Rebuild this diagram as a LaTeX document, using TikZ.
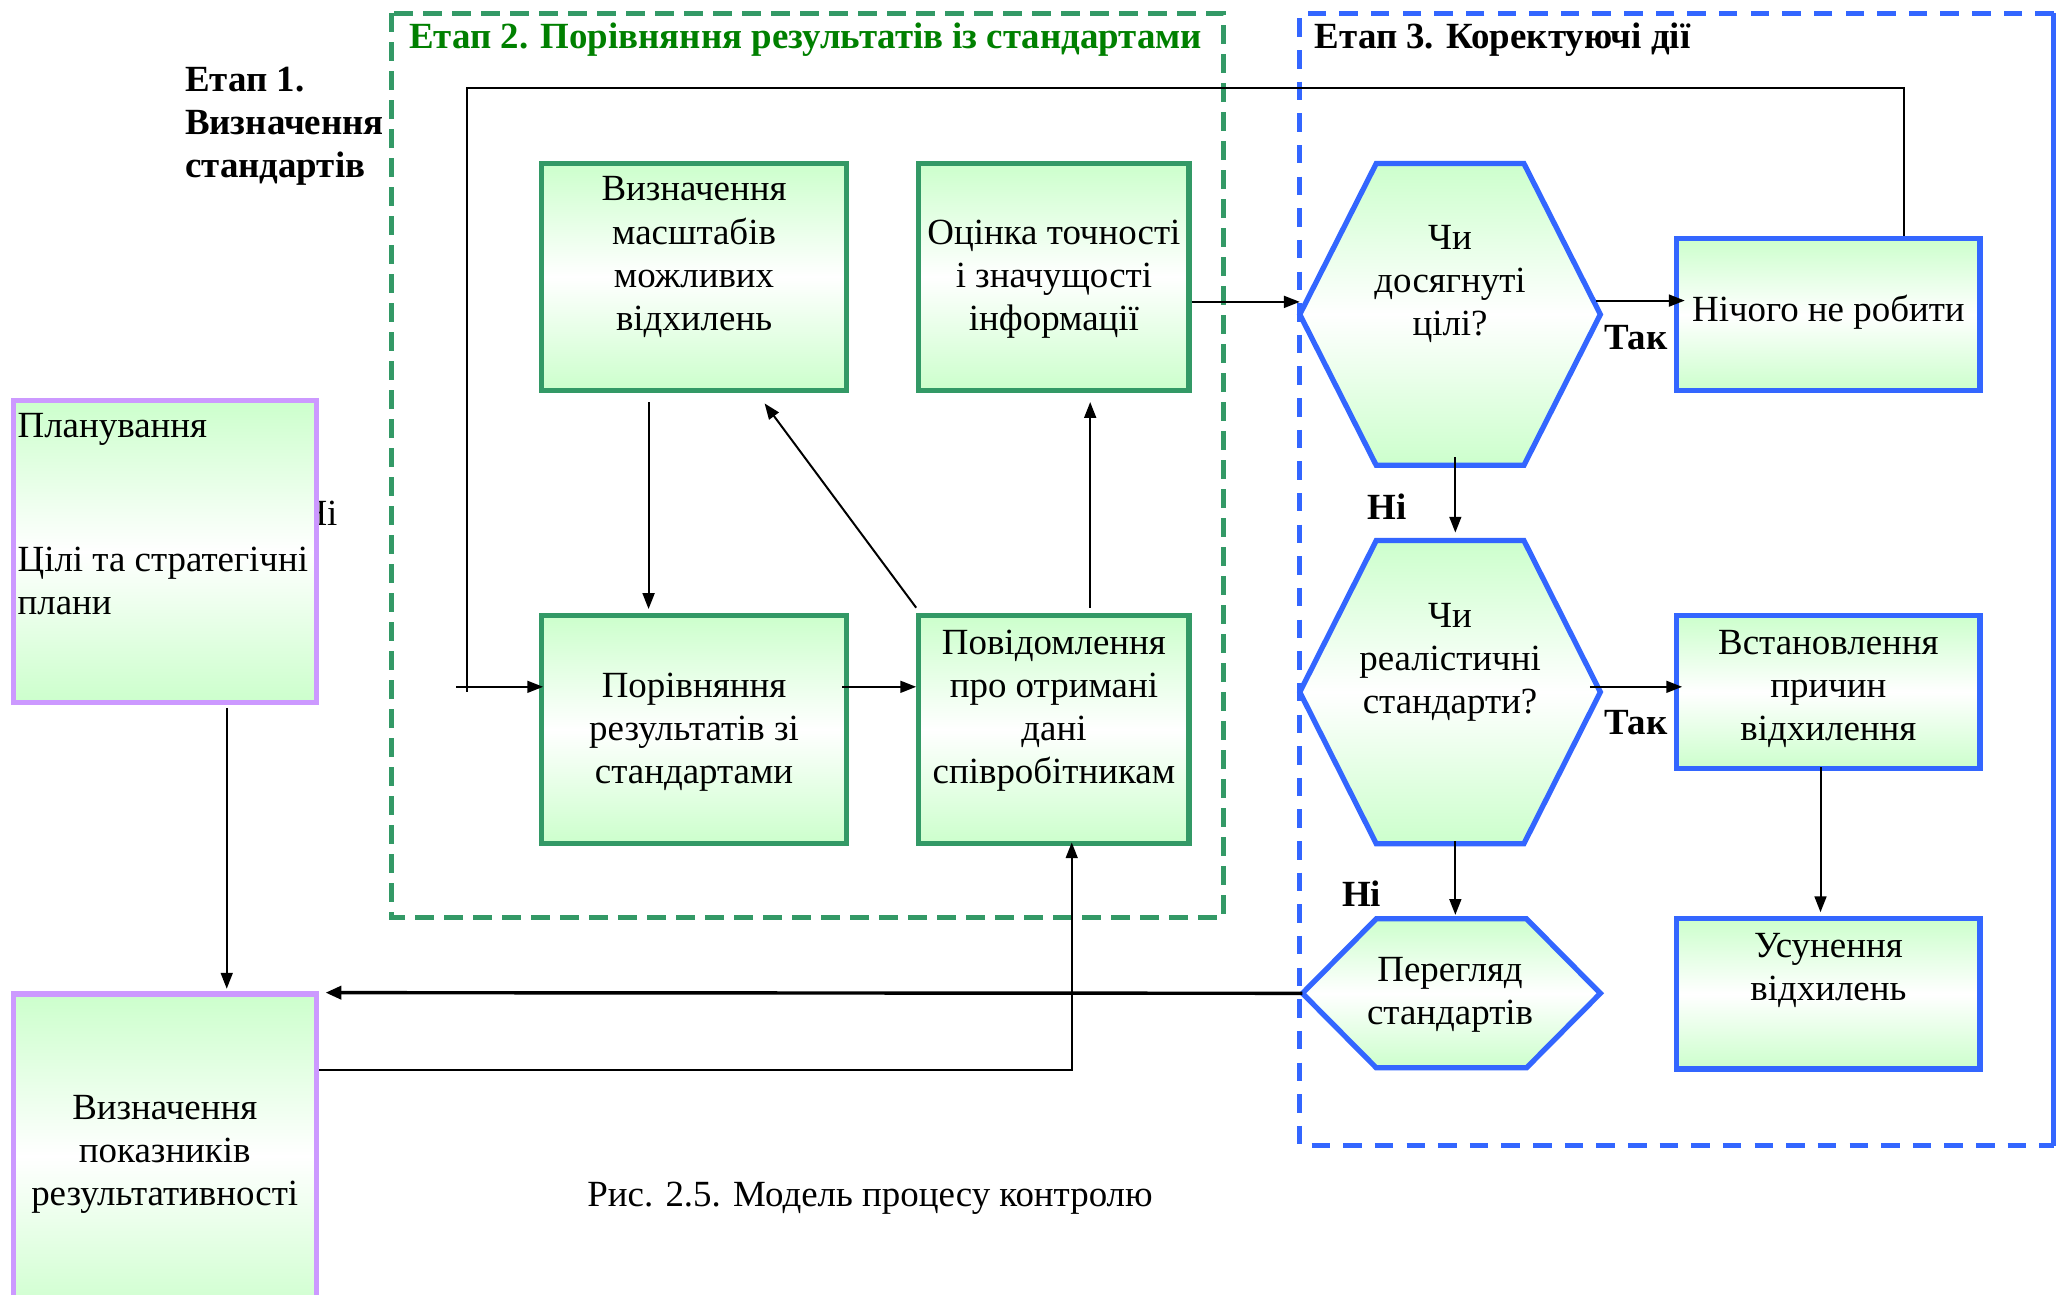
\documentclass[tikz,border=0pt]{standalone}
\usepackage{fontspec}
\setmainfont{Liberation Serif}
\usetikzlibrary{arrows.meta,calc}
\definecolor{lg}{RGB}{204,255,204}
\definecolor{gb}{RGB}{51,153,102}
\definecolor{bb}{RGB}{51,102,255}
\definecolor{pb}{RGB}{204,153,255}
\definecolor{tg}{RGB}{0,128,0}
\newcommand\myhex[2]{\path[hexs] (#1.west) -- ($(#1.north west)+(#2,0)$) -- ($(#1.north east)+(-#2,0)$) -- (#1.east) -- ($(#1.south east)+(-#2,0)$) -- ($(#1.south west)+(#2,0)$) -- cycle;}
\begin{document}
\begin{tikzpicture}[x=0.5pt,y=-0.5pt,
  font=\fontsize{14}{16.35}\selectfont,
  grad/.style={top color=lg,bottom color=lg,middle color=white},
  gbox/.style={draw=gb,line width=2pt,grad,inner sep=0pt},
  bbox/.style={draw=bb,line width=2pt,grad,inner sep=0pt},
  pbox/.style={draw=pb,line width=2pt,grad,inner sep=0pt},
  hexs/.style={draw=bb,line width=2pt,grad,line join=miter},
  anc/.style={draw=none,inner sep=0pt,outer sep=0pt},
  txt/.style={inner sep=0pt,align=center,yshift=-1.5pt},
  lbl/.style={inner sep=0pt,yshift=-1.5pt,font=\fontsize{14}{16.35}\selectfont\bfseries},
  clbl/.style={inner sep=0pt,font=\fontsize{14}{16.35}\selectfont\bfseries},
  ln/.style={line width=0.75pt},
  arr/.style={ln,-{Triangle[length=6pt,width=4.5pt]}},
  arrthick/.style={line width=1.3pt,-{Triangle[length=6pt,width=5pt]}}]
\useasboundingbox (0,0) rectangle (1568,982);
\clip (0,0) rectangle (1568,982);
\fill[white] (0,0) rectangle (1568,982);

% group frames
\draw[gb,line width=2pt,dash pattern=on 7pt off 4pt] (297,10) rectangle (928,696);
\draw[bb,line width=2pt,dash pattern=on 7pt off 5pt] (1558,10) -- (986,10) -- (986,869) -- (1558,869);
\draw[bb,line width=2pt] (1558,10) -- (1558,869);

% titles
\node[lbl,text=tg,anchor=west] (t2) at (310,27) {Етап 2. Порівняння результатів із стандартами};
\node[lbl,anchor=west] (t3) at (997,27) {Етап 3. Коректуючі дії};
\node[lbl,anchor=west,align=left] (t1) at (140,92.5) {Етап 1.\\Визначення\\стандартів};

% partially hidden label
\node[txt] (hid) at (242,386) {Ні};

% left boxes
\node[pbox,minimum width=115pt,minimum height=114.5pt] (plan) at (125,418.5) {};
\node[txt,anchor=west] (plan1) at (13,323) {Планування};
\node[txt,anchor=west,align=left] (plan2) at (13,437.5) {Цілі та стратегічні\\плани};
\node[pbox,minimum width=115pt,minimum height=123pt] (met) at (125,877) {};
\node[txt] (mett) at (125,872.5) {Визначення\\показників\\результативності};

% stage 2 boxes
\node[gbox,minimum width=115.5pt,minimum height=86pt] (b1) at (526.5,210) {};
\node[txt] (b1t) at (526.5,192) {Визначення\\масштабів\\можливих\\відхилень};
\node[gbox,minimum width=102.5pt,minimum height=86pt] (b2) at (799.5,210) {};
\node[txt] (b2t) at (799.5,208.5) {Оцінка точності\\і значущості\\інформації};
\node[gbox,minimum width=115.5pt,minimum height=86.5pt] (b3) at (526.5,553.5) {};
\node[txt] (b3t) at (526.5,552.5) {Порівняння\\результатів зі\\стандартами};
\node[gbox,minimum width=102.5pt,minimum height=86.5pt] (b4) at (799.5,553.5) {};
\node[txt] (b4t) at (799.5,536) {Повідомлення\\про отримані\\дані\\співробітникам};

% stage 3 hexagons
\node[anc,minimum width=114pt,minimum height=114.5pt] (h1) at (1100,238.5) {};
\myhex{h1}{58}
\node[txt] (h1t) at (1100,212.5) {Чи\\досягнуті\\цілі?};
\node[anc,minimum width=114pt,minimum height=115pt] (h2) at (1100,525) {};
\myhex{h2}{58}
\node[txt] (h2t) at (1100,499.5) {Чи\\реалістичні\\стандарти?};
\node[anc,minimum width=113pt,minimum height=56.5pt] (h3) at (1101,753.5) {};
\myhex{h3}{56}
\node[txt] (h3t) at (1100,751.5) {Перегляд\\стандартів};

% stage 3 boxes
\node[bbox,minimum width=115pt,minimum height=57.5pt] (r1) at (1387,238.5) {};
\node[txt] (r1t) at (1387,234) {Нічого не робити};
\node[bbox,minimum width=115pt,minimum height=58pt] (r2) at (1387,525) {};
\node[txt] (r2t) at (1387,519.5) {Встановлення\\причин\\відхилення};
\node[bbox,minimum width=115pt,minimum height=57pt] (r3) at (1387,754) {};
\node[txt] (r3t) at (1387,733.5) {Усунення\\відхилень};

% connectors
\coordinate (lpB) at (354,67);
\coordinate (lpC) at (354,525);
\coordinate (lpD) at (346,521);
\draw[ln] ($(r1.north)+(57,0)$) |- (lpB) -- (lpC);
\draw[arr] (lpD) -- ($(b3.west)+(3,-32.5)$);
\draw[arr] ($(b1.south)+(-34.5,7)$) -- ($(b3.north)+(-34.5,-3)$);
\draw[arr] ($(b4.north west)+(0,-4)$) -- ($(b1.south)+(53.5,8)$);
\draw[arr] ($(b4.north)+(27.5,-4)$) -- ($(b2.south)+(27.5,7)$);
\draw[arr] ($(b3.east)+(-5,-32.5)$) -- ($(b4.west)+(0,-32.5)$);
\draw[arr] ($(b2.east)+(0,19)$) -- ($(h1.west)+(0,-9.5)$);
\draw[arr] ($(h1.east)+(-3,-10.5)$) -- ($(r1.west)+(8,-10.5)$);
\draw[arr] ($(h1.south)+(4,-6)$) -- ($(h2.north)+(4,-6)$);
\draw[arr] ($(h2.east)+(-8,-4)$) -- ($(r2.west)+(6,-4)$);
\draw[arr] ($(h2.south)+(4,-2)$) -- ($(h3.north)+(3,-3)$);
\draw[arr] ($(r2.south)+(-6,-3)$) -- ($(r3.north)+(-6,-3)$);
\draw[arrthick] (h3.west) -- ($(met.east)+(5,-124)$);
\draw[arr] ($(plan.south)+(47,2)$) -- ($(met.north)+(47,-2)$);
\draw[arr] ($(met.east)+(0,-65)$) -| ($(b4.south)+(13.5,-3)$);

% connector labels
\node[clbl] (tak1) at (1241,256) {Так};
\node[clbl] (ni1) at (1052,384) {Ні};
\node[clbl] (tak2) at (1241,548) {Так};
\node[clbl] (ni2) at (1033,678) {Ні};

% caption
\node[txt] (cap) at (660,906) {Рис. 2.5. Модель процесу контролю};
\end{tikzpicture}
\end{document}
